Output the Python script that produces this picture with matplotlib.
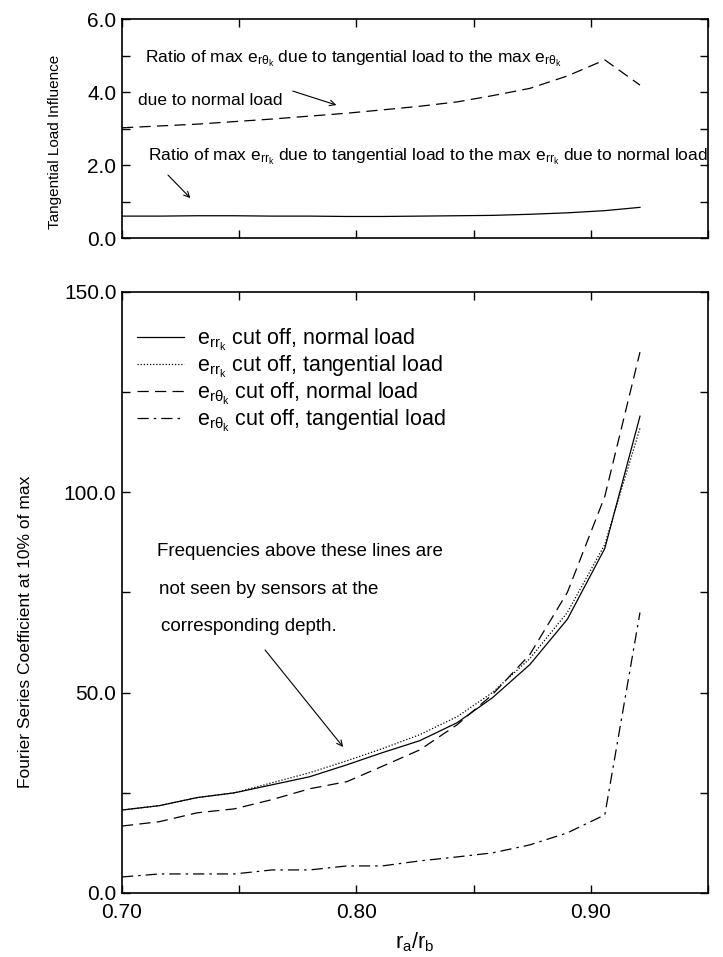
import numpy as np
import matplotlib
matplotlib.use("Agg")
import matplotlib.pyplot as plt
from matplotlib.ticker import MultipleLocator, FormatStrFormatter

plt.rcParams['font.family'] = ['Liberation Sans', 'DejaVu Sans']
plt.rcParams['mathtext.default'] = 'regular'

# r_a / r_b sample points
ratio = [0.700, 0.716, 0.732, 0.748, 0.764, 0.780, 0.796, 0.811,
         0.827, 0.843, 0.858, 0.874, 0.890, 0.906, 0.921]

# top panel: tangential load influence
infl_rtheta = [3.02, 3.07, 3.12, 3.19, 3.26, 3.34, 3.42, 3.51,
               3.61, 3.73, 3.90, 4.10, 4.44, 4.88, 4.19]
infl_rr = [0.60, 0.60, 0.61, 0.61, 0.60, 0.60, 0.59, 0.59,
           0.60, 0.61, 0.62, 0.65, 0.69, 0.75, 0.84]

# bottom panel: Fourier series coefficient at 10% of max
rr_normal = [20.7, 21.8, 23.8, 25.0, 27.0, 29.0, 32.0, 35.0,
             38.0, 42.5, 48.7, 57.0, 68.3, 86.0, 119.0]
rr_tangential = [20.7, 21.8, 23.8, 25.0, 27.5, 30.0, 33.0, 36.0,
                 39.5, 44.0, 50.0, 58.5, 70.0, 87.0, 116.0]
rt_normal = [16.7, 17.8, 20.0, 21.0, 23.3, 26.0, 27.8, 31.6,
             35.7, 42.0, 49.5, 59.5, 75.0, 99.0, 135.0]
rt_tangential = [4.0, 4.75, 4.75, 4.75, 5.75, 5.75, 6.75, 6.75,
                 8.0, 9.0, 10.0, 12.0, 15.0, 19.5, 70.0]

legend_labels = [r'$e_{rr_k}$ cut off, normal load',
                 r'$e_{rr_k}$ cut off, tangential load',
                 r'$e_{r\theta_k}$ cut off, normal load',
                 r'$e_{r\theta_k}$ cut off, tangential load']

fig = plt.figure(figsize=(7.23, 9.57), dpi=100)
ax1 = fig.add_axes([0.1687, 0.7513, 0.8105, 0.2288])
ax2 = fig.add_axes([0.1687, 0.0669, 0.8105, 0.6280])

lw = 0.9
dash = (0, (9, 5))
dashdot = (0, (9, 4, 2, 4))

# --- top panel
ax1.plot(ratio, infl_rtheta, color='black', lw=lw, linestyle=dash)
ax1.plot(ratio, infl_rr, color='black', lw=lw)
ax1.set_xlim(0.70, 0.95)
ax1.set_ylim(0.0, 6.0)
ax1.set_ylabel('Tangential Load Influence', fontsize=11)
ax1.yaxis.set_label_coords(-0.103, 0.44)
ax1.yaxis.set_major_locator(MultipleLocator(2.0))
ax1.yaxis.set_minor_locator(MultipleLocator(1.0))
ax1.yaxis.set_major_formatter(FormatStrFormatter('%.1f'))
ax1.xaxis.set_major_locator(MultipleLocator(0.05))
ax1.tick_params(axis='x', labelbottom=False)

ax1.text(0.7098, 4.92, r'Ratio of max $e_{r\theta_k}$ due to tangential load to the max $e_{r\theta_k}$',
         fontsize=12.5, va='center', ha='left')
ax1.text(0.707, 3.76, 'due to normal load', fontsize=12.5, va='center', ha='left')
ax1.annotate('', xy=(0.7926, 3.62), xytext=(0.7717, 4.05),
             arrowprops=dict(arrowstyle='->', color='black', lw=0.8))
ax1.text(0.711, 2.24, r'Ratio of max $e_{rr_k}$ due to tangential load to the max $e_{rr_k}$ due to normal load',
         fontsize=12.5, va='center', ha='left')
ax1.annotate('', xy=(0.730, 1.04), xytext=(0.7188, 1.78),
             arrowprops=dict(arrowstyle='->', color='black', lw=0.8))

# --- bottom panel
ax2.plot(ratio, rr_normal, color='black', lw=lw, label=legend_labels[0])
ax2.plot(ratio, rr_tangential, color='black', lw=lw, linestyle=(0, (1, 1.5)), label=legend_labels[1])
ax2.plot(ratio, rt_normal, color='black', lw=lw, linestyle=dash, label=legend_labels[2])
ax2.plot(ratio, rt_tangential, color='black', lw=lw, linestyle=dashdot, label=legend_labels[3])
ax2.set_xlim(0.70, 0.95)
ax2.set_ylim(0.0, 150.0)
ax2.set_xlabel(r'$r_a/r_b$', fontsize=15.5, labelpad=6)
ax2.set_ylabel('Fourier Series Coefficient at 10% of max', fontsize=12.5)
ax2.yaxis.set_label_coords(-0.152, 0.434)
ax2.yaxis.set_major_locator(MultipleLocator(50.0))
ax2.yaxis.set_minor_locator(MultipleLocator(25.0))
ax2.yaxis.set_major_formatter(FormatStrFormatter('%.1f'))
ax2.xaxis.set_major_locator(MultipleLocator(0.10))
ax2.xaxis.set_minor_locator(MultipleLocator(0.05))
ax2.xaxis.set_major_formatter(FormatStrFormatter('%.2f'))

ax2.legend(loc='upper left', bbox_to_anchor=(0.025, 0.942), frameon=False,
           fontsize=15.5, handlelength=2.2, handletextpad=0.6,
           labelspacing=0.04, borderpad=0, borderaxespad=0)

ax2.text(0.7150, 85.3, 'Frequencies above these lines are', fontsize=13.5, va='center')
ax2.text(0.7158, 75.7, 'not seen by sensors at the', fontsize=13.5, va='center')
ax2.text(0.7168, 66.6, 'corresponding depth.', fontsize=13.5, va='center')
ax2.annotate('', xy=(0.7951, 35.9), xytext=(0.7603, 61.2),
             arrowprops=dict(arrowstyle='->', color='black', lw=0.8))

for ax in (ax1, ax2):
    for s in ax.spines.values():
        s.set_linewidth(1.2)
    ax.tick_params(which='both', direction='in', top=True, right=True,
                   length=6, width=1.0, labelsize=15, pad=4)
ax2.tick_params(axis='x', pad=7)

fig.savefig('out.png', dpi=100)
